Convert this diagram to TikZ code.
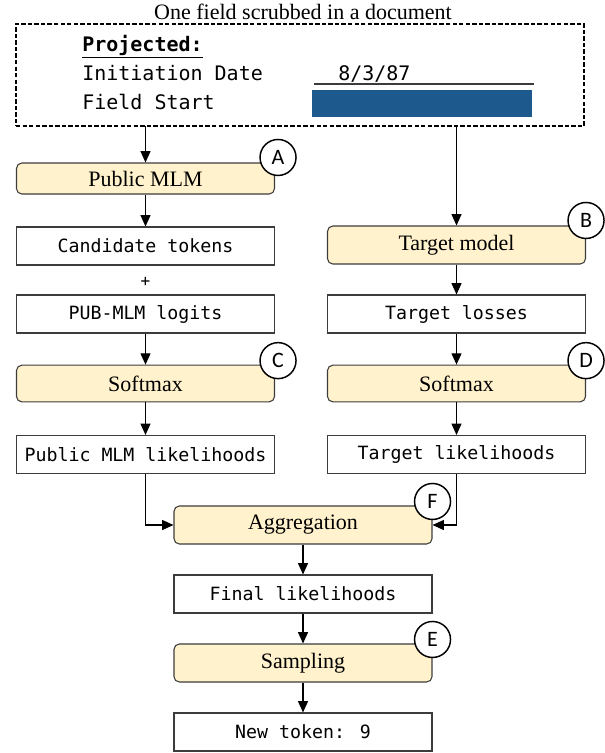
\documentclass[tikz,border=0pt]{standalone}
\usepackage{fontspec}
\setmainfont{Liberation Serif}
\newfontfamily\monofont{DejaVu Sans Mono}
\newfontfamily\circfont{Carlito}
\usetikzlibrary{arrows.meta,calc}
\definecolor{boxyellow}{HTML}{FFF2CC}
\definecolor{fieldblue}{RGB}{30,89,142}
\definecolor{edgegray}{RGB}{60,60,60}
\begin{document}
\begin{tikzpicture}[x=0.75pt,y=-0.75pt,
  plainbox/.style={draw=edgegray,line width=0.8pt,fill=white,minimum width=193.5pt,minimum height=28.5pt,inner sep=0pt,font=\monofont\fontsize{13.7}{16}\selectfont},
  modelbox/.style={draw=edgegray,line width=0.8pt,fill=boxyellow,rounded corners=4pt,minimum width=193.5pt,minimum height=28.5pt,inner sep=0pt,font=\fontsize{16.5}{19}\selectfont},
  badge/.style={circle,draw=black,line width=1.1pt,fill=white,minimum size=27pt,inner sep=0pt,font=\circfont\fontsize{16.5}{18}\selectfont},
  flow/.style={draw=black,line width=0.8pt,-{Triangle[length=8.5pt,width=7.5pt]}},
  headtext/.style={anchor=base west,inner sep=0pt,font=\monofont\fontsize{15}{18}\selectfont}
]
\useasboundingbox (0,0) rectangle (605,753);

% title and document
\node[font=\fontsize{16.5}{19}\selectfont,inner sep=0pt] (title) at (303,12) {One field scrubbed in a document};
\node[draw=black,dash pattern=on 3.3pt off 1.6pt,line width=1.1pt,minimum width=426pt,minimum height=76.5pt,inner sep=0pt] (doc) at (300,75) {};
\node[headtext] (proj) at (82,51) {\textbf{\underline{Projected:}}};
\node[headtext] (init) at (82,80) {Initiation Date};
\node[headtext] (date) at (338,80) {8/3/87};
\node[headtext] (fstart) at (82,109) {Field Start};
\coordinate (ul1) at (314,84);
\coordinate (ul2) at (534,84);
\draw[line width=0.8pt,edgegray] (ul1) -- (ul2);
\fill[fieldblue] (312,90) rectangle (532,117);

\coordinate (d1) at (145.5,126);
\coordinate (d2) at (456.5,126);

% left column
\node[modelbox,minimum height=23.25pt] (pmlm) at (145.5,178.5) {Public MLM};
\node[plainbox] (cand) at (145.5,246) {Candidate tokens};
\node[font=\monofont\fontsize{12}{14}\selectfont,inner sep=0pt] (plus) at (145.5,282) {+};
\node[plainbox] (logits) at (145.5,314) {PUB-MLM logits};
\node[modelbox,minimum height=27.5pt] (smc) at (145.5,383.5) {Softmax};
\node[plainbox] (plik) at (145.5,454.5) {Public MLM likelihoods};

% right column
\node[modelbox] (tmodel) at (456.5,245) {Target model};
\node[plainbox] (tloss) at (456.5,314) {Target losses};
\node[modelbox,minimum height=27.5pt] (smd) at (456.5,383.5) {Softmax};
\node[plainbox] (tlik) at (456.5,454.5) {Target likelihoods};

% centre column
\node[modelbox] (agg) at (303,525) {Aggregation};
\node[plainbox] (final) at (303,594) {Final likelihoods};
\node[modelbox] (samp) at (303,663) {Sampling};
\node[plainbox] (newtok) at (303,732) {New token: 9};

% connectors
\draw[flow] (d1) -- (pmlm);
\draw[flow] (d2) -- (tmodel);
\draw[flow] (pmlm) -- (cand);
\draw[flow] (logits) -- (smc);
\draw[flow] (smc) -- (plik);
\draw[flow] (tmodel) -- (tloss);
\draw[flow] (tloss) -- (smd);
\draw[flow] (smd) -- (tlik);
\draw[flow] (plik.south) |- (agg.west);
\draw[flow] (tlik.south) |- (agg.east);
\draw[flow] (agg) -- (final);
\draw[flow] (final) -- (samp);
\draw[flow] (samp) -- (newtok);

% badges
\node[badge] (bA) at ($(pmlm.north east)+(3,-5)$) {A};
\node[badge] (bB) at ($(tmodel.north east)+(0,-5)$) {B};
\node[badge] (bC) at ($(smc.north east)+(3,-4)$) {C};
\node[badge] (bD) at ($(smd.north east)+(0,-4)$) {D};
\node[badge] (bF) at ($(agg.north east)+(0,-4)$) {F};
\node[badge] (bE) at ($(samp.north east)+(0,-4)$) {E};
\end{tikzpicture}
\end{document}
